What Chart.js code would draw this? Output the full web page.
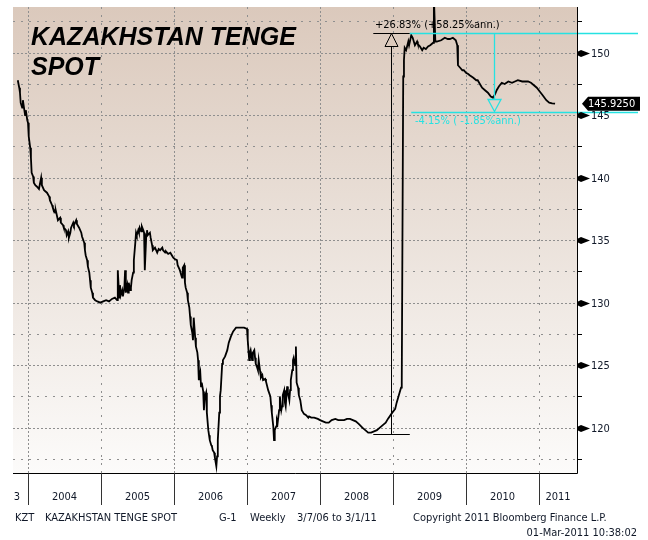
<!DOCTYPE html>
<html><head><meta charset="utf-8">
<script src="https://cdn.jsdelivr.net/npm/chart.js@4.4.1/dist/chart.umd.min.js"></script>
<style>html,body{margin:0;padding:0;background:#fff;}canvas{display:block;}</style>
</head><body>
<canvas id="c" width="648" height="540"></canvas>
<script>
// ---- data (decimal year, KZT per USD) ----
const weekT = [
2003.86,2003.88,2003.89,2003.90,2003.92,2003.93,2003.95,2003.96,2003.97,2003.99,
2004.00,2004.01,2004.03,2004.04,2004.05,2004.07,2004.08,2004.10,2004.12,2004.15,
2004.18,2004.19,2004.22,2004.26,2004.29,2004.30,2004.33,2004.34,2004.37,2004.38,
2004.41,2004.44,2004.45,2004.48,2004.49,2004.52,2004.53,2004.55,2004.56,2004.58,
2004.59,2004.62,2004.63,2004.66,2004.67,2004.70,2004.73,2004.74,2004.77,2004.78,
2004.79,2004.81,2004.82,2004.84,2004.85,2004.86,2004.88,2004.89,2004.92,2004.95,
2004.99,2005.03,2005.07,2005.11,2005.15,2005.19,2005.22,2005.23,2005.25,2005.26,
2005.27,2005.29,2005.30,2005.32,2005.33,2005.34,2005.36,2005.37,2005.38,2005.40,
2005.41,2005.42,2005.44,2005.45,2005.47,2005.48,2005.49,2005.51,2005.52,2005.53,
2005.55,2005.56,2005.58,2005.59,2005.60,2005.62,2005.63,2005.64,2005.67,2005.68,
2005.70,2005.71,2005.74,2005.77,2005.79,2005.81,2005.84,2005.85,2005.88,2005.89,
2005.92,2005.95,2005.97,2005.99,2006.01,2006.04,2006.05,2006.08,2006.10,2006.11,
2006.12,2006.14,2006.15,2006.16,2006.18,2006.19,2006.21,2006.22,2006.23,2006.25,
2006.26,2006.27,2006.29,2006.30,2006.32,2006.33,2006.34,2006.36,2006.37,2006.38,
2006.40,2006.41,2006.42,2006.44,2006.45,2006.47,2006.48,2006.49,2006.51,2006.52,
2006.53,2006.55,2006.56,2006.58,2006.59,2006.60,2006.62,2006.63,2006.64,2006.66,
2006.67,2006.70,2006.73,2006.75,2006.78,2006.81,2006.85,2006.90,2006.96,2007.00,
2007.01,2007.03,2007.04,2007.05,2007.07,2007.08,2007.10,2007.11,2007.12,2007.14,
2007.15,2007.16,2007.18,2007.19,2007.21,2007.22,2007.25,2007.26,2007.29,2007.32,
2007.33,2007.34,2007.36,2007.37,2007.38,2007.40,2007.41,2007.42,2007.44,2007.45,
2007.47,2007.48,2007.49,2007.51,2007.52,2007.53,2007.55,2007.56,2007.58,2007.59,
2007.60,2007.62,2007.63,2007.64,2007.66,2007.67,2007.68,2007.70,2007.71,2007.73,
2007.75,2007.78,2007.81,2007.84,2007.85,2007.88,2007.92,2007.97,2008.00,2008.04,
2008.08,2008.12,2008.16,2008.21,2008.25,2008.29,2008.33,2008.37,2008.41,2008.45,
2008.49,2008.53,2008.58,2008.62,2008.66,2008.70,2008.74,2008.78,2008.82,2008.86,
2008.90,2008.93,2008.99,2009.03,2009.05,2009.08,2009.11,2009.12,2009.14,2009.15,
2009.16,2009.18,2009.21,2009.22,2009.25,2009.27,2009.30,2009.33,2009.34,2009.37,
2009.40,2009.42,2009.45,2009.48,2009.51,2009.53,2009.55,2009.56,2009.58,2009.60,
2009.66,2009.71,2009.75,2009.78,2009.82,2009.86,2009.88,2009.89,2009.92,2009.95,
2009.97,2010.00,2010.03,2010.05,2010.10,2010.14,2010.16,2010.19,2010.22,2010.26,
2010.30,2010.34,2010.37,2010.40,2010.42,2010.45,2010.49,2010.53,2010.58,2010.63,
2010.67,2010.71,2010.77,2010.81,2010.85,2010.89,2010.93,2010.97,2011.01,2011.05,
2011.10,2011.14,2011.18,2011.22];
const kztSpot = [
147.8,147.2,146.8,146.0,145.6,146.2,145.4,145.0,145.4,144.6,
144.4,143.3,142.4,141.6,140.4,140.1,139.6,139.4,139.3,139.1,
140.0,139.4,139.0,138.8,138.5,138.2,137.8,137.6,137.2,137.4,
136.6,136.8,136.4,136.2,136.0,135.8,135.4,135.7,135.2,135.6,
136.0,136.4,136.2,136.6,136.3,136.0,135.6,135.3,134.8,134.2,
133.8,133.4,132.9,132.4,131.8,131.2,130.8,130.4,130.2,130.1,
130.0,130.1,130.2,130.1,130.3,130.4,130.2,132.6,130.4,131.4,
130.6,131.0,130.5,131.2,132.6,130.8,131.4,130.8,131.6,131.0,
131.2,131.8,132.4,133.4,134.8,135.6,135.4,135.8,135.6,136.0,
135.7,136.1,135.8,135.6,132.6,135.4,135.8,135.4,135.6,135.2,
134.6,134.2,134.4,134.0,134.3,134.2,134.4,134.2,134.0,134.1,
133.9,134.0,133.8,133.6,133.5,133.4,133.0,132.6,132.2,132.0,
132.8,133.0,131.6,131.2,130.8,130.2,129.6,128.9,128.2,127.6,
127.0,128.8,127.2,126.5,126.0,125.4,123.8,124.4,123.3,123.6,
122.9,121.4,122.4,122.8,121.2,119.8,119.4,119.0,118.6,118.5,
118.2,118.0,117.6,116.9,117.7,119.0,121.2,122.5,123.0,125.1,
125.4,125.7,126.2,126.8,127.3,127.7,128.0,128.0,128.0,127.9,
127.0,125.4,126.0,126.2,125.4,126.0,126.2,125.6,125.1,124.8,
124.6,125.4,124.5,124.0,124.2,123.8,123.9,123.7,123.0,122.5,
121.8,121.2,120.1,119.0,119.8,120.1,120.6,120.4,121.4,122.5,
121.4,121.7,122.6,123.0,122.0,121.7,123.3,122.8,122.2,123.0,
123.8,124.6,125.4,125.6,125.0,126.5,123.6,123.2,122.6,122.2,
121.4,121.1,121.0,120.8,120.9,120.8,120.8,120.7,120.6,120.5,
120.4,120.4,120.6,120.7,120.6,120.6,120.6,120.7,120.7,120.6,
120.5,120.3,120.0,119.8,119.6,119.6,119.7,119.8,120.0,120.2,
120.4,120.7,121.2,121.5,122.0,122.6,123.2,123.6,148.1,149.4,
150.4,150.2,150.9,150.6,151.4,151.2,150.6,150.9,150.7,150.5,
150.2,150.4,150.3,150.5,150.6,150.7,150.8,154.5,150.9,150.9,
151.0,151.2,151.1,151.1,151.2,151.0,150.6,149.0,148.8,148.6,
148.6,148.4,148.3,148.2,148.0,147.8,147.8,147.5,147.2,147.0,
146.8,146.5,146.4,146.7,147.0,147.3,147.6,147.5,147.7,147.6,
147.7,147.8,147.7,147.7,147.7,147.6,147.4,147.2,146.9,146.6,
146.2,146.0,145.95,145.925];

const yearStarts = [2003,2004,2005,2006,2007,2008,2009,2010,2011];
const yearLabels = ['2003','2004','2005','2006','2007','2008','2009','2010','2011'];
const majorTicks = [120,125,130,135,140,145,150];
const minorTicks = [117.5,122.5,127.5,132.5,137.5,142.5,147.5,152.5];
const lastPrice = 145.9250;
// trend annotation values
const moveLow = 119.50, moveHigh = 151.56, retraceLevel = 145.27;
const moveT = 2008.97, retraceT = 2010.38;
const moveText = '+26.83% (+58.25%ann.)';
const retraceText = '-4.15% ( -1.85%ann.)';
const titleLines = ['KAZAKHSTAN TENGE', 'SPOT'];
const footer1 = ['KZT', 'KAZAKHSTAN TENGE SPOT', 'G-1', 'Weekly', '3/7/06 to 3/1/11', 'Copyright 2011 Bloomberg Finance L.P.'];
const footer2 = '01-Mar-2011 10:38:02';

const FONT = "'DejaVu Sans Condensed','DejaVu Sans',sans-serif";
const CYAN = '#25e2e2';

const points = weekT.map((t, i) => ({x: t, y: kztSpot[i]}));

function seg(ctx, x1, y1, x2, y2) { ctx.beginPath(); ctx.moveTo(x1, y1); ctx.lineTo(x2, y2); ctx.stroke(); }

const bbgPlugin = {
  id: 'bbg',
  beforeDatasetsDraw(chart) {
    const {ctx, chartArea: a, scales: {x, y}} = chart;
    ctx.save();
    const g = ctx.createLinearGradient(0, a.top, 0, a.bottom);
    g.addColorStop(0, '#dbc9bc');
    g.addColorStop(0.5, '#ebe2db');
    g.addColorStop(1, '#fcfbfa');
    ctx.fillStyle = g;
    ctx.fillRect(a.left, a.top, a.right - a.left, a.bottom - a.top);
    ctx.strokeStyle = '#8f8f8f';
    ctx.lineWidth = 1;
    majorTicks.concat(minorTicks).forEach(v => {
      const py = Math.round(y.getPixelForValue(v)) + 0.5;
      ctx.setLineDash(v % 5 === 0 ? [2, 2] : [2, 6]);
      seg(ctx, a.left, py, a.right, py);
    });
    yearStarts.forEach((yr, i) => {
      if (yr <= x.min || yr >= x.max) return;
      const px = Math.round(x.getPixelForValue(yr)) + 0.5;
      ctx.setLineDash(yr % 2 === 0 ? [2, 2] : [2, 6]);
      seg(ctx, px, a.top, px, a.bottom);
    });
    ctx.restore();
  },
  afterDatasetsDraw(chart) {
    const {ctx, chartArea: a, scales: {x, y}} = chart;
    ctx.save();
    ctx.setLineDash([]);
    const yHi = Math.round(y.getPixelForValue(moveHigh)) + 0.5;
    const yLo = Math.round(y.getPixelForValue(moveLow)) + 0.5;
    const xv = Math.round(x.getPixelForValue(moveT)) + 0.5;
    const xl = x.getPixelForValue(2008.73), xr = x.getPixelForValue(2009.23);
    // black move annotation
    ctx.strokeStyle = '#000'; ctx.lineWidth = 1;
    seg(ctx, xl, yHi, xr, yHi);
    seg(ctx, xl, yLo, xr, yLo);
    seg(ctx, xv, yHi, xv, yLo);
    ctx.beginPath();
    ctx.moveTo(xv, yHi); ctx.lineTo(xv - 6.5, yHi + 13); ctx.lineTo(xv + 6.5, yHi + 13); ctx.closePath();
    ctx.fillStyle = '#dccabd'; ctx.fill(); ctx.stroke();
    // cyan retrace annotation
    const yR = Math.round(y.getPixelForValue(retraceLevel)) + 0.5;
    const xc = Math.round(x.getPixelForValue(retraceT)) + 0.5;
    ctx.strokeStyle = CYAN; ctx.lineWidth = 1.3;
    seg(ctx, xr, yHi, 638, yHi);
    seg(ctx, x.getPixelForValue(2009.25), yR, 638, yR);
    seg(ctx, xc, yHi, xc, yR - 13);
    ctx.beginPath();
    ctx.moveTo(xc - 6.5, yR - 13); ctx.lineTo(xc + 6.5, yR - 13); ctx.lineTo(xc, yR - 1); ctx.closePath();
    ctx.stroke();
    // texts
    ctx.font = '11px ' + FONT;
    ctx.textBaseline = 'middle';
    ctx.textAlign = 'left';
    ctx.fillStyle = '#000';
    ctx.fillText(moveText, 375, yHi - 8, 130);
    ctx.fillStyle = CYAN;
    ctx.fillText(retraceText, 415, yR + 9, 114);
    ctx.restore();
  },
  afterDraw(chart) {
    const {ctx, chartArea: a, scales: {x, y}} = chart;
    ctx.save();
    ctx.setLineDash([]);
    // title
    ctx.fillStyle = '#000';
    ctx.font = "italic bold 25px 'Liberation Sans', Arial, sans-serif";
    ctx.textBaseline = 'alphabetic';
    ctx.textAlign = 'left';
    ctx.fillText(titleLines[0], 31, 45);
    ctx.fillText(titleLines[1], 31, 75);
    // frame
    ctx.strokeStyle = '#000'; ctx.lineWidth = 1;
    seg(ctx, a.left, a.bottom + 0.5, a.right + 0.5, a.bottom + 0.5);
    seg(ctx, a.right + 0.5, a.top, a.right + 0.5, a.bottom + 0.5);
    // y ticks
    minorTicks.forEach(v => {
      const py = Math.round(y.getPixelForValue(v)) + 0.5;
      seg(ctx, a.right, py, a.right + 5, py);
    });
    ctx.font = '11px ' + FONT;
    ctx.textBaseline = 'middle';
    majorTicks.forEach(v => {
      const py = Math.round(y.getPixelForValue(v)) + 0.5;
      ctx.fillStyle = '#000';
      ctx.beginPath();
      ctx.moveTo(a.right, py - 1.5); ctx.lineTo(a.right + 4, py - 3.5); ctx.lineTo(a.right + 13, py);
      ctx.lineTo(a.right + 4, py + 3.5); ctx.lineTo(a.right, py + 1.5); ctx.closePath(); ctx.fill();
      ctx.fillStyle = '#101828';
      ctx.fillText(String(v), a.right + 14, py + 0.5);
    });
    // last price tag
    const pl = y.getPixelForValue(lastPrice);
    ctx.fillStyle = '#000';
    ctx.beginPath();
    ctx.moveTo(a.right + 5, pl); ctx.lineTo(a.right + 11, pl - 7); ctx.lineTo(640, pl - 7);
    ctx.lineTo(640, pl + 7); ctx.lineTo(a.right + 11, pl + 7); ctx.closePath(); ctx.fill();
    ctx.fillStyle = '#fff';
    ctx.fillText(lastPrice.toFixed(4), a.right + 11, pl + 0.5, 50);
    // x axis band
    const bandBottom = a.bottom + 32;
    yearStarts.forEach(yr => {
      if (yr <= x.min || yr >= x.max) return;
      const px = Math.round(x.getPixelForValue(yr)) + 0.5;
      ctx.strokeStyle = '#333';
      seg(ctx, px, a.bottom, px, bandBottom);
    });
    ctx.save();
    ctx.beginPath(); ctx.rect(a.left + 1, a.bottom + 1, a.right - a.left - 1, 40); ctx.clip();
    ctx.fillStyle = '#101828';
    yearStarts.forEach((yr, i) => {
      const x0 = x.getPixelForValue(yr), x1 = x.getPixelForValue(yr + 1);
      if (x0 < a.left) {
        ctx.textAlign = 'right';
        ctx.fillText(yearLabels[i], x1 - 8, a.bottom + 24);
      } else {
        ctx.textAlign = 'center';
        ctx.fillText(yearLabels[i], (x0 + Math.min(x1, a.right)) / 2, a.bottom + 24);
      }
    });
    ctx.restore();
    // footer
    ctx.fillStyle = '#101828';
    ctx.textAlign = 'left';
    const fx = [15, 45, 219, 250, 297, 413];
    const fw = [20, 152, 18, 38, 96, 224];
    footer1.forEach((s, i) => ctx.fillText(s, fx[i], 518, fw[i]));
    ctx.textAlign = 'right';
    ctx.fillText(footer2, 637, 533, 141);
    ctx.restore();
  }
};

new Chart(document.getElementById('c'), {
  type: 'line',
  data: { datasets: [{ data: points, borderColor: '#000', borderWidth: 1.8, pointRadius: 0, tension: 0, fill: false }] },
  options: {
    responsive: false, animation: false, devicePixelRatio: 1,
    layout: { padding: { left: 13, top: 7, right: 71, bottom: 67 } },
    plugins: { legend: { display: false }, tooltip: { enabled: false } },
    scales: {
      x: { type: 'linear', display: false, min: 2003.7945, max: 2011.5205 },
      y: { type: 'linear', display: false, position: 'right', min: 116.37, max: 153.66 }
    }
  },
  plugins: [bbgPlugin]
});
</script>
</body></html>
